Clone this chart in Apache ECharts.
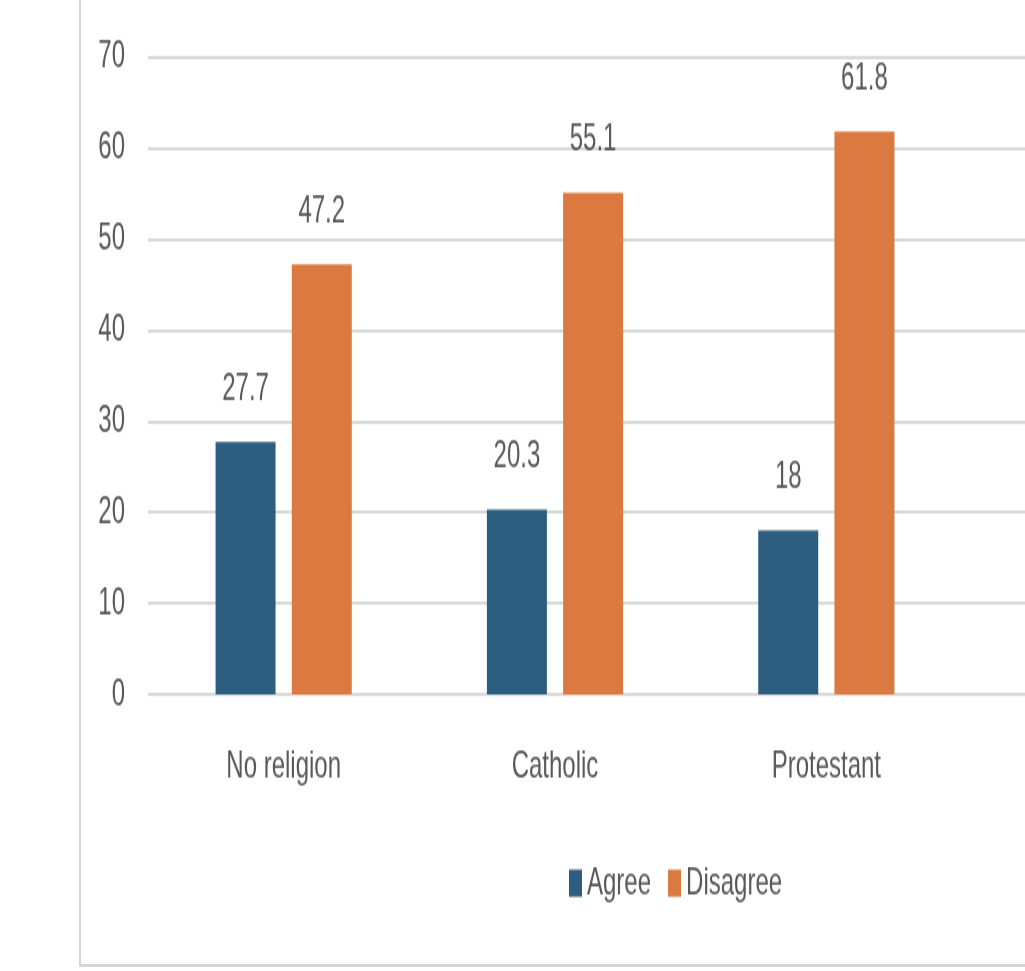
<!DOCTYPE html>
<html>
<head>
<meta charset="utf-8">
<script src="https://cdn.jsdelivr.net/npm/echarts@6/dist/echarts.min.js"></script>
<style>
  html, body { margin: 0; padding: 0; background: #fff; overflow: hidden; }
  #frame {
    position: absolute; left: 79px; top: -10px; width: 1100px; height: 974px;
    border-left: 2px solid #d6d6d6; border-bottom: 3px solid #d6d6d6;
  }
  /* o texto da referencia e alto e estreito: desenha numa altura menor e estica */
  #grafico {
    position: absolute; left: 0; top: 0; width: 1025px; height: 607px;
    transform: scaleY(1.6); transform-origin: 0 0;
  }
</style>
</head>
<body>
<div id="frame"></div>
<div id="grafico"></div>
<script>
const categorias = ["No religion", "Catholic", "Protestant"];
const concorda = [27.7, 20.3, 18];
const discorda = [47.2, 55.1, 61.8];
const eixoMin = 0;
const eixoMax = 70;
const eixoPasso = 10;

const fonte = '"Liberation Sans", Arial, sans-serif';
const cinza = "#595959";

const chart = echarts.init(document.getElementById("grafico"));

const rotulo = {
  show: true,
  position: "top",
  distance: 21,
  color: cinza,
  fontFamily: fonte,
  fontSize: 24,
};

const option = {
  animation: false,
  legend: {
    data: ["Agree", "Disagree"],
    left: 564,
    top: 535,
    icon: "rect",
    itemWidth: 13,
    itemHeight: 17,
    itemGap: 17,
    textStyle: { color: cinza, fontFamily: fonte, fontSize: 24 },
  },
  grid: [
    { left: 148, right: 63, top: 35.6, bottom: 173 },
    { left: 148, right: 0, top: 35.6, bottom: 173 },
  ],
  xAxis: [
    {
      type: "category",
      gridIndex: 0,
      data: categorias,
      axisLine: { show: false },
      axisTick: { show: false },
      axisLabel: { color: cinza, fontFamily: fonte, fontSize: 24, margin: 33 },
    },
    { type: "value", gridIndex: 1, show: false, min: 0, max: 1 },
  ],
  yAxis: [
    {
      type: "value",
      gridIndex: 0,
      min: eixoMin,
      max: eixoMax,
      interval: eixoPasso,
      show: false,
    },
    {
      type: "value",
      gridIndex: 1,
      min: eixoMin,
      max: eixoMax,
      interval: eixoPasso,
      axisLine: { show: false },
      axisTick: { show: false },
      splitLine: { lineStyle: { color: "#d9d9d9", width: 1.8 } },
      axisLabel: { color: cinza, fontFamily: fonte, fontSize: 24, margin: 23 },
    },
  ],
  series: [
    {
      name: "Agree",
      type: "bar",
      xAxisIndex: 0,
      yAxisIndex: 0,
      data: concorda,
      barWidth: 60,
      barGap: "27%",
      itemStyle: { color: "#2d5e80" },
      label: rotulo,
    },
    {
      name: "Disagree",
      type: "bar",
      xAxisIndex: 0,
      yAxisIndex: 0,
      data: discorda,
      barWidth: 60,
      barGap: "27%",
      itemStyle: { color: "#db7a40" },
      label: rotulo,
    },
  ],
};

chart.setOption(option);
</script>
</body>
</html>
